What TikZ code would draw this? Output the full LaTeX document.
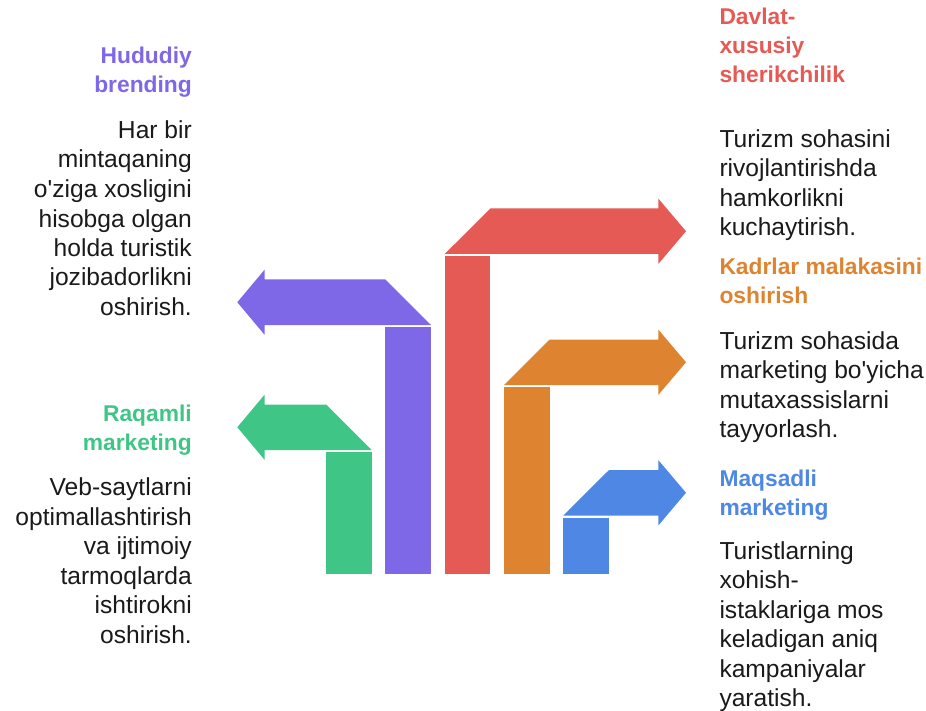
\documentclass[tikz,border=0pt]{standalone}
\usepackage{fontspec}
\setmainfont{Liberation Sans}[Ligatures=TeXOff]
\definecolor{cgreen}{HTML}{3FC586}
\definecolor{cpurple}{HTML}{7F68E8}
\definecolor{cred}{HTML}{E55A54}
\definecolor{corange}{HTML}{DE8431}
\definecolor{cblue}{HTML}{4E88E4}
\definecolor{ctext}{HTML}{1A1A1A}
\newcommand\mkcol[3]{\fill[#3] (#1,#2) rectangle ({#1+45.7},574);}
\newcommand\mkleft[3]{\fill[#3] ({#1+45.7},{#2-2}) -- (#1,{#2-47.5}) -- (264.7,{#2-47.5}) -- (264.7,{#2-57.45}) -- (237.3,{#2-24.75}) -- (264.7,{#2+7.95}) -- (264.7,{#2-2}) -- cycle;}
\newcommand\mkright[3]{\fill[#3] (#1,{#2-2}) -- ({#1+45.7},{#2-47.5}) -- (658.3,{#2-47.5}) -- (658.3,{#2-57.45}) -- (686,{#2-24.75}) -- (658.3,{#2+7.95}) -- (658.3,{#2-2}) -- cycle;}
\tikzset{
  ttl/.style={inner sep=0pt, font=\fontsize{22.8}{29}\selectfont\bfseries},
  ttlL/.style={ttl, anchor=base east, align=right},
  ttlR/.style={ttl, anchor=base west, align=left},
  bod/.style={inner sep=0pt, text=ctext, font=\fontsize{24.6}{29.5}\selectfont},
  bodL/.style={bod, anchor=base east, align=right},
  bodR/.style={bod, anchor=base west, align=left},
}
\begin{document}
\begin{tikzpicture}[x=1pt,y=-1pt]
\useasboundingbox (0,0) rectangle (926,711);
% columns and arrows
\mkcol{326}{452}{cgreen}
\mkleft{326}{452}{cgreen}
\mkcol{385.3}{327}{cpurple}
\mkleft{385.3}{327}{cpurple}
\mkcol{444.7}{256}{cred}
\mkright{444.7}{256}{cred}
\mkcol{504}{387}{corange}
\mkright{504}{387}{corange}
\mkcol{563.3}{517.5}{cblue}
\mkright{563.3}{517.5}{cblue}
% left texts (anchor = baseline of last line)
\node[ttlL, text=cpurple] (t1) at (192,92.5) {Hududiy\\brending};
\node[bodL] (b1) at (192,315.5) {Har bir\\mintaqaning\\o'ziga xosligini\\hisobga olgan\\holda turistik\\jozibadorlikni\\oshirish.};
\node[ttlL, text=cgreen] (t2) at (192,450) {Raqamli\\marketing};
\node[bodL] (b2) at (192,643) {Veb-saytlarni\\optimallashtirish\\va ijtimoiy\\tarmoqlarda\\ishtirokni\\oshirish.};
% right texts
\node[ttlR, text=cred] (t3) at (719.3,83) {Davlat-\\xususiy\\sherikchilik};
\node[bodR] (b3) at (719.3,236) {Turizm sohasini\\rivojlantirishda\\hamkorlikni\\kuchaytirish.};
\node[ttlR, text=corange] (t4) at (719.3,304) {Kadrlar malakasini\\oshirish};
\node[bodR] (b4) at (719.3,437.5) {Turizm sohasida\\marketing bo'yicha\\mutaxassislarni\\tayyorlash.};
\node[ttlR, text=cblue] (t5) at (719.3,515) {Maqsadli\\marketing};
\node[bodR] (b5) at (719.3,706.5) {Turistlarning\\xohish-\\istaklariga mos\\keladigan aniq\\kampaniyalar\\yaratish.};
\end{tikzpicture}
\end{document}
